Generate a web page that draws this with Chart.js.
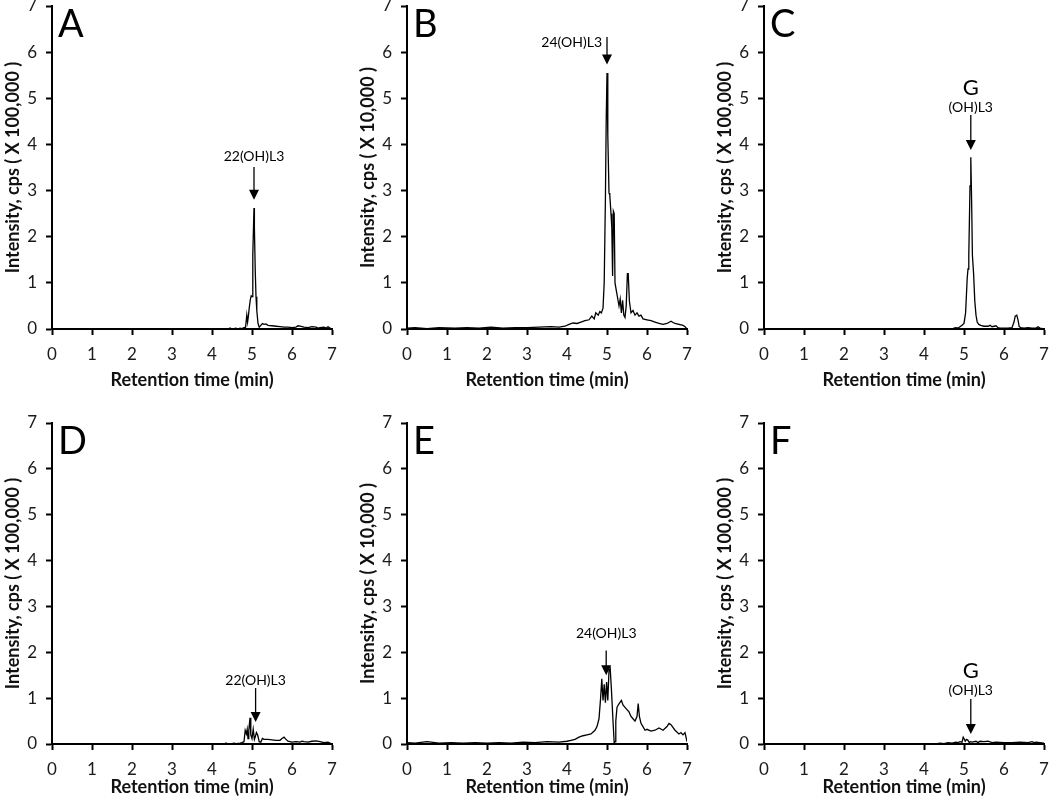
<!DOCTYPE html>
<html>
<head>
<meta charset="utf-8">
<script src="https://cdn.jsdelivr.net/npm/chart.js@4"></script>
<style>
  body { margin: 0; background: #fff; }
  #page { position: relative; width: 1050px; height: 807px; overflow: hidden; }
  .panel { position: absolute; }
</style>
</head>
<body>
<div id="page"></div>
<script>
// Retention time (min) / intensity values
const timeA = [0, 4.4, 4.45, 4.5, 4.55, 4.6, 4.65, 4.7, 4.75, 4.8, 4.84, 4.87, 4.89, 4.91, 4.93, 4.96, 4.98, 5.0, 5.02, 5.04, 5.05, 5.06, 5.08, 5.1, 5.12, 5.15, 5.18, 5.22, 5.26, 5.3, 5.35, 5.4, 5.5, 5.6, 5.7, 5.8, 5.9, 6.0, 6.1, 6.15, 6.2, 6.25, 6.3, 6.4, 6.5, 6.6, 6.65, 6.7, 6.8, 6.85, 6.9, 6.95, 7.0];
const intensityA = [0, 0, 0.02, 0, 0.01, 0.02, 0, 0.02, 0.01, 0.03, 0.04, 0.3, 0.15, 0.28, 0.45, 0.65, 0.72, 0.7, 1.6, 2.3, 2.62, 2.2, 1.3, 0.7, 0.4, 0.12, 0.04, 0.08, 0.12, 0.1, 0.11, 0.08, 0.07, 0.06, 0.05, 0.04, 0.04, 0.03, 0.04, 0.07, 0.06, 0.05, 0.04, 0.03, 0.05, 0.04, 0.02, 0.03, 0.04, 0.02, 0.05, 0.02, 0];

const timeB = [0, 0.2, 0.5, 0.8, 1.2, 1.5, 1.8, 2.1, 2.4, 2.7, 3.0, 3.3, 3.6, 3.8, 3.95, 4.05, 4.15, 4.25, 4.35, 4.45, 4.55, 4.62, 4.68, 4.72, 4.78, 4.82, 4.86, 4.9, 4.93, 4.96, 4.98, 5.0, 5.02, 5.05, 5.07, 5.1, 5.12, 5.14, 5.16, 5.18, 5.2, 5.23, 5.27, 5.3, 5.33, 5.36, 5.39, 5.42, 5.45, 5.48, 5.51, 5.53, 5.56, 5.6, 5.65, 5.7, 5.75, 5.8, 5.85, 5.9, 6.0, 6.1, 6.2, 6.3, 6.4, 6.5, 6.6, 6.65, 6.7, 6.8, 6.9, 6.95, 7.0];
const intensityB = [0.02, 0.03, 0.01, 0.03, 0.02, 0.03, 0.02, 0.04, 0.02, 0.03, 0.03, 0.04, 0.05, 0.04, 0.06, 0.1, 0.13, 0.12, 0.15, 0.18, 0.2, 0.28, 0.22, 0.35, 0.3, 0.38, 0.35, 0.45, 1.0, 2.8, 4.5, 5.55, 4.2, 2.95, 2.9, 2.5, 2.2, 1.15, 2.55, 2.5, 1.0, 0.85, 0.65, 0.5, 0.65, 0.35, 0.62, 0.3, 0.25, 0.5, 1.2, 1.2, 0.6, 0.35, 0.4, 0.3, 0.35, 0.28, 0.3, 0.22, 0.2, 0.18, 0.15, 0.12, 0.1, 0.12, 0.17, 0.14, 0.12, 0.1, 0.08, 0.05, 0];

const timeC = [0, 4.7, 4.75, 4.8, 4.85, 4.9, 4.95, 5.0, 5.04, 5.08, 5.1, 5.12, 5.15, 5.17, 5.19, 5.21, 5.24, 5.27, 5.3, 5.33, 5.37, 5.42, 5.5, 5.6, 5.65, 5.7, 5.8, 5.85, 5.9, 6.0, 6.1, 6.2, 6.25, 6.28, 6.32, 6.35, 6.38, 6.42, 6.5, 6.6, 6.7, 6.8, 6.85, 6.9, 7.0];
const intensityC = [0, 0, 0.02, 0.03, 0.02, 0.05, 0.08, 0.12, 0.35, 1.1, 1.3, 1.6, 3.1, 3.72, 2.8, 1.6, 1.2, 0.6, 0.3, 0.15, 0.1, 0.08, 0.06, 0.06, 0.08, 0.05, 0.07, 0.03, 0.02, 0.02, 0.02, 0.03, 0.15, 0.28, 0.3, 0.2, 0.05, 0.03, 0.02, 0.03, 0.02, 0.02, 0.05, 0.02, 0];

const timeD = [0, 4.3, 4.35, 4.4, 4.5, 4.55, 4.6, 4.7, 4.75, 4.8, 4.83, 4.86, 4.88, 4.9, 4.92, 4.95, 4.97, 5.0, 5.03, 5.06, 5.08, 5.11, 5.14, 5.18, 5.22, 5.26, 5.3, 5.4, 5.5, 5.6, 5.7, 5.75, 5.8, 5.85, 5.9, 6.0, 6.1, 6.2, 6.25, 6.3, 6.4, 6.5, 6.6, 6.7, 6.8, 6.9, 6.95, 7.0];
const intensityD = [0, 0, 0.02, 0, 0.01, 0.02, 0.01, 0.02, 0.03, 0.05, 0.3, 0.22, 0.32, 0.12, 0.3, 0.57, 0.2, 0.12, 0.32, 0.1, 0.15, 0.25, 0.2, 0.05, 0.04, 0.12, 0.1, 0.1, 0.09, 0.08, 0.08, 0.12, 0.15, 0.1, 0.06, 0.04, 0.05, 0.04, 0.06, 0.05, 0.04, 0.06, 0.07, 0.05, 0.03, 0.04, 0.02, 0];

const timeE = [0, 0.2, 0.5, 0.8, 1.1, 1.4, 1.7, 2.0, 2.3, 2.6, 2.9, 3.2, 3.5, 3.8, 4.0, 4.1, 4.2, 4.3, 4.4, 4.5, 4.6, 4.7, 4.75, 4.8, 4.84, 4.87, 4.9, 4.93, 4.96, 4.99, 5.02, 5.05, 5.08, 5.11, 5.15, 5.18, 5.2, 5.22, 5.25, 5.28, 5.32, 5.36, 5.4, 5.45, 5.5, 5.55, 5.6, 5.65, 5.7, 5.75, 5.78, 5.81, 5.85, 5.9, 5.95, 6.0, 6.1, 6.2, 6.3, 6.4, 6.5, 6.55, 6.6, 6.7, 6.8, 6.85, 6.9, 6.95, 7.0];
const intensityE = [0.03, 0.02, 0.05, 0.02, 0.03, 0.02, 0.03, 0.02, 0.03, 0.02, 0.04, 0.03, 0.05, 0.04, 0.06, 0.08, 0.1, 0.15, 0.18, 0.2, 0.22, 0.3, 0.38, 0.55, 1.0, 1.42, 0.95, 1.3, 0.9, 1.35, 0.95, 1.6, 1.65, 1.2, 0.5, 0.02, 0.05, 0.5, 0.8, 0.85, 0.9, 0.95, 0.85, 0.8, 0.75, 0.7, 0.6, 0.55, 0.5, 0.6, 0.88, 0.6, 0.45, 0.38, 0.3, 0.32, 0.28, 0.3, 0.35, 0.3, 0.38, 0.45, 0.42, 0.3, 0.22, 0.25, 0.2, 0.25, 0.05];

const timeF = [0, 4.3, 4.4, 4.5, 4.6, 4.7, 4.8, 4.85, 4.9, 4.95, 4.98, 5.0, 5.03, 5.06, 5.1, 5.13, 5.16, 5.2, 5.3, 5.35, 5.4, 5.5, 5.6, 5.7, 5.8, 6.0, 6.2, 6.4, 6.6, 6.7, 6.75, 6.8, 6.9, 7.0];
const intensityF = [0, 0, 0.02, 0.01, 0.03, 0.02, 0.04, 0.03, 0.05, 0.04, 0.15, 0.12, 0.06, 0.1, 0.08, 0.03, 0.05, 0.04, 0.06, 0.03, 0.06, 0.05, 0.06, 0.03, 0.04, 0.03, 0.03, 0.04, 0.03, 0.05, 0.03, 0.04, 0.03, 0.02];

const xTicks = [0, 1, 2, 3, 4, 5, 6, 7];
const yTicks = [0, 1, 2, 3, 4, 5, 6, 7];
const panelLetters = ["A", "B", "C", "D", "E", "F"];
const yTitles = [
    "Intensity, cps ( X 100,000 )",
    "Intensity, cps ( X 10,000 )",
    "Intensity, cps ( X 100,000 )",
    "Intensity, cps ( X 100,000 )",
    "Intensity, cps ( X 10,000 )",
    "Intensity, cps ( X 100,000 )",
];
// peak labels: x position (min), label line(s), label height, arrow top, arrow tip (axis units)
const peakNames = [["22(OH)L3"], ["24(OH)L3"], ["G", "(OH)L3"], ["22(OH)L3"], ["24(OH)L3"], ["G", "(OH)L3"]];
const peakX = [5.05, 5.0, 5.17, 5.09, 4.98, 5.17];
const peakLabelY = [3.73, 6.2, 5.23, 1.39, 2.41, 1.6];
const arrowTop = [3.51, 6.33, 4.64, 1.22, 2.04, 0.98];
const arrowTip = [2.8, 5.73, 3.88, 0.48, 1.5, 0.22];

const times = [timeA, timeB, timeC, timeD, timeE, timeF];
const intensities = [intensityA, intensityB, intensityC, intensityD, intensityE, intensityF];

const FONT = "Lato, 'Open Sans', sans-serif";

// Panel letter and arrow/label annotation
const peakAnnotation = {
    id: "peakAnnotation",
    afterDraw(chart) {
        const o = chart.options.plugins.peakAnnotation;
        const ctx = chart.ctx;
        const xs = chart.scales.x, ys = chart.scales.y;
        const area = chart.chartArea;
        ctx.save();
        ctx.fillStyle = "#000";
        ctx.strokeStyle = "#000";

        ctx.font = "38px " + FONT;
        ctx.textAlign = "left";
        ctx.textBaseline = "top";
        ctx.fillText(o.letter, area.left + 6, area.top + 0);

        const px = xs.getPixelForValue(o.x);
        const top = ys.getPixelForValue(o.top);
        const tip = ys.getPixelForValue(o.tip);
        ctx.lineWidth = 1.3;
        ctx.beginPath();
        ctx.moveTo(px, top);
        ctx.lineTo(px, tip - 8);
        ctx.stroke();
        ctx.beginPath();
        ctx.moveTo(px - 5, tip - 10);
        ctx.lineTo(px + 5, tip - 10);
        ctx.lineTo(px, tip);
        ctx.closePath();
        ctx.fill();

        ctx.textBaseline = "middle";
        const ly = ys.getPixelForValue(o.labelY);
        if (o.lines.length === 2) {
            ctx.textAlign = "center";
            ctx.font = "22px " + FONT;
            ctx.fillText(o.lines[0], px, ly);
            ctx.font = "14px " + FONT;
            ctx.fillText(o.lines[1], px, ly + 20);
        } else if (o.side) {
            ctx.textAlign = "right";
            ctx.font = "14px " + FONT;
            ctx.fillText(o.lines[0], px - 5, ly);
        } else {
            ctx.textAlign = "center";
            ctx.font = "14px " + FONT;
            ctx.fillText(o.lines[0], px, ly);
        }
        ctx.restore();
    }
};

const page = document.getElementById("page");
const colLeft = [0, 355, 712];
const PANEL_W = 344;

for (let i = 0; i < 6; i++) {
    const row = Math.floor(i / 3), col = i % 3;
    const top = row === 0 ? 0 : 400;
    const height = row === 0 ? 400 : 407;
    const padTop = row === 0 ? 6 : 23;
    const xAxisHeight = row === 0 ? 71 : 63;

    const div = document.createElement("div");
    div.className = "panel";
    div.style.left = colLeft[col] + "px";
    div.style.top = top + "px";
    const canvas = document.createElement("canvas");
    canvas.width = PANEL_W;
    canvas.height = height;
    canvas.style.width = PANEL_W + "px";
    canvas.style.height = height + "px";
    div.appendChild(canvas);
    page.appendChild(div);

    const points = times[i].map((t, k) => ({ x: t, y: intensities[i][k] }));

    new Chart(canvas, {
        type: "line",
        data: {
            datasets: [{
                data: points,
                borderColor: "#000",
                borderWidth: 1.3,
                pointRadius: 0,
                tension: 0,
                fill: false,
            }],
        },
        options: {
            responsive: false,
            animation: false,
            layout: { padding: { top: padTop, right: 12, bottom: 0, left: 0 } },
            plugins: {
                legend: { display: false },
                tooltip: { enabled: false },
                peakAnnotation: {
                    letter: panelLetters[i],
                    x: peakX[i],
                    lines: peakNames[i],
                    labelY: peakLabelY[i],
                    top: arrowTop[i],
                    tip: arrowTip[i],
                    side: i === 1,
                },
            },
            scales: {
                x: {
                    type: "linear",
                    min: 0,
                    max: 7,
                    afterBuildTicks: (s) => { s.ticks = xTicks.map((v) => ({ value: v })); },
                    afterFit: (s) => { s.height = xAxisHeight; s.paddingLeft = 0; s.paddingRight = 0; },
                    grid: { drawOnChartArea: false, drawTicks: true, tickLength: 6, tickWidth: 2, tickColor: "#000" },
                    border: { display: true, color: "#000", width: 2 },
                    ticks: { color: "#1a1a1a", padding: 9, font: { family: FONT, size: 17 }, maxRotation: 0 },
                    title: {
                        display: true,
                        text: "Retention time (min)",
                        color: "#111",
                        font: { family: FONT, size: 18, weight: "bold" },
                        padding: { top: 0, bottom: 9 },
                    },
                },
                y: {
                    type: "linear",
                    min: 0,
                    max: 7,
                    afterBuildTicks: (s) => { s.ticks = yTicks.map((v) => ({ value: v })); },
                    afterFit: (s) => { s.width = 52; s.paddingTop = 0; s.paddingBottom = 0; },
                    grid: { drawOnChartArea: false, drawTicks: true, tickLength: 6, tickWidth: 2, tickColor: "#000" },
                    border: { display: true, color: "#000", width: 2 },
                    ticks: { color: "#1a1a1a", padding: 9, font: { family: FONT, size: 17 } },
                    title: {
                        display: true,
                        text: yTitles[i],
                        color: "#111",
                        font: { family: FONT, size: 18, weight: "bold" },
                        padding: { top: 2, bottom: 0 },
                    },
                },
            },
        },
        plugins: [peakAnnotation],
    });
}
</script>
</body>
</html>
